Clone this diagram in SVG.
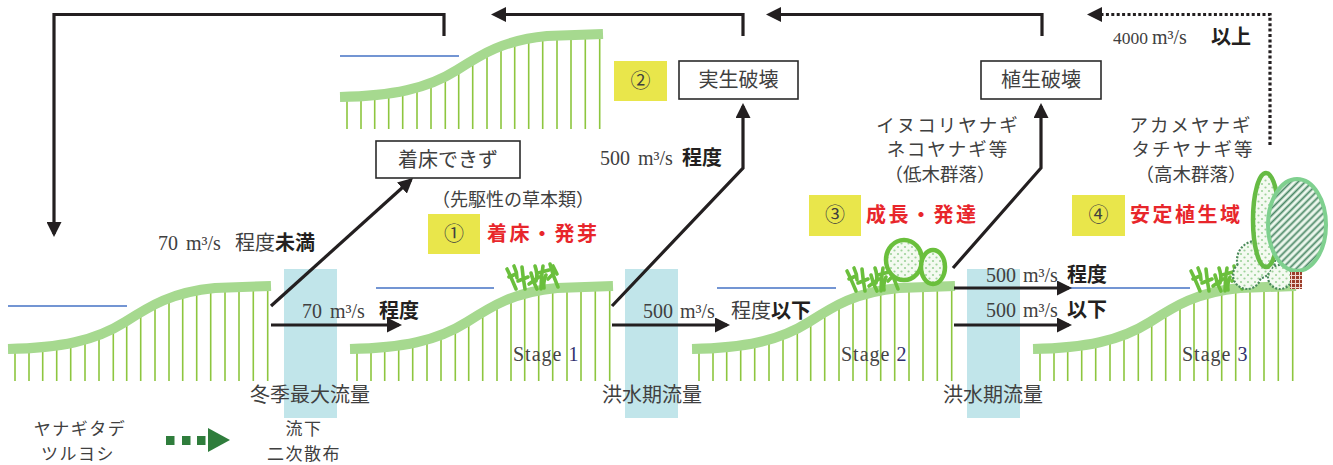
<svg xmlns="http://www.w3.org/2000/svg" width="1333" height="465" viewBox="0 0 1333 465">
<style>
.jp{font-family:"Noto Sans CJK JP",sans-serif;fill:#404040;font-size:20px}
.num{font-family:"Liberation Serif","Noto Sans CJK JP",serif;fill:#404040;font-size:20px}
.b{font-family:"Noto Sans CJK JP",sans-serif;font-weight:700;fill:#231f20;font-size:20px}
.red{font-family:"Noto Sans CJK JP",sans-serif;font-weight:700;fill:#e8262b;font-size:20px;letter-spacing:2.5px}
.stg{font-family:"Liberation Serif",serif;fill:#444;font-size:20px;letter-spacing:1px}
.stg .d{fill:#30306e}
.box{fill:#fff;stroke:#2b2b2b;stroke-width:1.6}
.tag{fill:#e9e64b}
.flow{fill:#c1e5ea}
.water{stroke:#4472c4;stroke-width:1.5}
.band{fill:none;stroke:#a6d98f;stroke-width:10}
.stalk{fill:none;stroke:#8dc63f;stroke-width:1.6}
.conn{fill:none;stroke:#231f20;stroke-width:3.2}
.dot{stroke-dasharray:3 2.4}
.grass{fill:none;stroke:#6abf3c;stroke-width:3.6;stroke-linecap:round;stroke-linejoin:round}
.mid{text-anchor:middle}
.sm{font-size:17px;letter-spacing:1.5px}
</style>
<defs>
  <marker id="head" markerUnits="userSpaceOnUse" markerWidth="15" markerHeight="15" viewBox="0 0 15 15" refX="12" refY="7.5" orient="auto">
    <path d="M0,0 L15,7.5 L0,15 z" fill="#231f20"/>
  </marker>
  <pattern id="dots" width="7" height="7" patternUnits="userSpaceOnUse">
    <rect width="7" height="7" fill="#f4faf1"/>
    <circle cx="2" cy="2" r="1.1" fill="#9ed39a"/>
    <circle cx="5.5" cy="5.5" r="1.1" fill="#9ed39a"/>
  </pattern>
  <pattern id="hatch" width="5" height="5" patternUnits="userSpaceOnUse" patternTransform="rotate(45)">
    <rect width="5" height="5" fill="#eef8ee"/>
    <line x1="1.5" y1="0" x2="1.5" y2="5" stroke="#4a8765" stroke-width="1.8"/>
  </pattern>
  <pattern id="brick" width="4" height="4" patternUnits="userSpaceOnUse">
    <rect width="4" height="4" fill="#f0d8d0"/>
    <rect width="3" height="3" fill="#9c3e2b"/>
  </pattern>
  <!-- river bank: stalks under a sloping turf band -->
  <g id="bank">
    <path class="stalk" d="M15,348.8V381 M29,348.1V381 M42.7,347.1V381 M56.7,345.4V381 M70.7,343V381 M85,339.6V381 M99,335V381 M113.3,328.7V381 M126.7,321V381 M140.7,312.2V381 M155,304.3V381 M169,298.2V381 M182.7,293.7V381 M196.7,290.5V381 M210.7,288.3V381 M225,287.6V381 M239,287.1V381 M253.3,286.6V381 M267.7,286.1V381"/>
    <path class="band" d="M8,349 C60,348 95,341 125,322 C150,306 172,292 215,288 L271,286"/>
  </g>
  <!-- herb tuft -->
  <g id="tuft" class="grass">
    <path d="M2,7 Q6,15 11,27 M4,15 L11,12 M9,4 Q12,10 12,16"/>
    <path d="M17,5 Q18,16 20,27 M13,19 L23,15"/>
    <path d="M26,11 Q28,20 32,27 M30,4 Q33,12 31,19 M24,22 L34,15"/>
    <path d="M38,4 Q36,16 36,27 M33,11 L44,8 M41,13 Q38,20 39,26"/>
    <path d="M45,2 Q48,14 53,25 M43,17 L50,10 M48,4 L52,12"/>
  </g>
</defs>

<rect width="1333" height="465" fill="#fff"/>

<!-- flow bands -->
<g id="flows">
  <rect class="flow" x="284" y="269" width="53" height="149"/>
  <rect class="flow" x="625" y="269" width="53" height="149"/>
  <rect class="flow" x="967" y="269" width="53" height="149"/>
</g>

<!-- inset bank: no establishment -->
<g id="bank-inset">
  <line class="water" x1="340" y1="56" x2="459" y2="56"/>
  <use href="#bank" transform="translate(332,-252)"/>
</g>

<g id="stage0">
  <line class="water" x1="8" y1="306" x2="127" y2="306"/>
  <use href="#bank"/>
</g>

<g id="stage1">
  <line class="water" x1="376" y1="288" x2="494" y2="288"/>
  <use href="#bank" transform="translate(342,0)"/>
  <use href="#tuft" transform="translate(505,262)"/>
  <text class="stg" x="513" y="361">Stage <tspan class="d">1</tspan></text>
</g>

<g id="stage2">
  <line class="water" x1="717" y1="288" x2="836" y2="288"/>
  <use href="#bank" transform="translate(684,0)"/>
  <use href="#tuft" transform="translate(845,264)"/>
  <ellipse cx="904" cy="260" rx="18" ry="20" fill="url(#dots)" stroke="#6abf3c" stroke-width="4.5"/>
  <ellipse cx="933" cy="267" rx="12" ry="17" fill="url(#dots)" stroke="#6abf3c" stroke-width="4.5"/>
  <text class="stg" x="841" y="361">Stage <tspan class="d">2</tspan></text>
</g>

<g id="stage3">
  <line class="water" x1="1060" y1="288" x2="1190" y2="288"/>
  <use href="#bank" transform="translate(1025,0)"/>
  <use href="#tuft" transform="translate(1189,264)"/>
  <g id="bush">
    <g fill="url(#dots)" stroke="#4a8a5a" stroke-width="2.2" stroke-dasharray="2 1.6">
      <circle cx="1256" cy="260" r="19"/>
      <circle cx="1247" cy="275" r="14"/>
      <circle cx="1280" cy="277" r="12"/>
    </g>
    <g fill="url(#dots)">
      <circle cx="1256" cy="260" r="17.5"/>
      <circle cx="1247" cy="275" r="12.5"/>
      <circle cx="1280" cy="277" r="10.5"/>
    </g>
  </g>
  <ellipse cx="1266" cy="220" rx="13" ry="47" fill="url(#dots)" stroke="#66bb44" stroke-width="4.5"/>
  <ellipse cx="1297" cy="225" rx="29" ry="46" fill="url(#hatch)" stroke="#7fd08f" stroke-width="4"/>
  <rect x="1290" y="272" width="12" height="17" fill="url(#brick)"/>
  <text class="stg" x="1182" y="361">Stage <tspan class="d">3</tspan></text>
</g>

<!-- connectors -->
<g id="connectors" class="conn">
  <path d="M444,36 V14.5 H54 V234" marker-end="url(#head)"/>
  <path d="M743,36 V14.5 H494" marker-end="url(#head)"/>
  <path d="M1042,36 V14.5 H769" marker-end="url(#head)"/>
  <path class="dot" d="M1270,145 V14.5 H1090" marker-end="url(#head)"/>
  <path d="M271,306 L410.8,180" marker-end="url(#head)"/>
  <path d="M271,325 H399" marker-end="url(#head)"/>
  <path d="M612,306 L743,168 V106" marker-end="url(#head)"/>
  <path d="M612,325 H727" marker-end="url(#head)"/>
  <path d="M953,268 L1041,168 V106" marker-end="url(#head)"/>
  <path d="M954,288 H1069" marker-end="url(#head)"/>
  <path d="M954,325 H1069" marker-end="url(#head)"/>
</g>

<!-- state boxes -->
<g id="box-nofix">
  <rect class="box" x="376" y="141" width="144" height="37"/>
  <text class="jp mid" x="448" y="167">着床できず</text>
</g>
<g id="box-seedling">
  <rect class="box" x="679" y="61" width="119" height="38"/>
  <text class="jp mid" x="738.5" y="87">実生破壊</text>
</g>
<g id="box-vegetation">
  <rect class="box" x="981" y="61" width="120" height="38"/>
  <text class="jp mid" x="1041" y="87">植生破壊</text>
</g>

<!-- numbered phases -->
<g id="tag1">
  <rect class="tag" x="428" y="214" width="52" height="40"/>
  <text class="jp mid" x="454" y="241">①</text>
  <text class="red" x="487" y="241">着床・発芽</text>
</g>
<g id="tag2">
  <rect class="tag" x="614" y="61" width="53" height="40"/>
  <text class="jp mid" x="640.5" y="88">②</text>
</g>
<g id="tag3">
  <rect class="tag" x="809" y="195" width="52" height="41"/>
  <text class="jp mid" x="835" y="222">③</text>
  <text class="red" x="866" y="222">成長・発達</text>
</g>
<g id="tag4">
  <rect class="tag" x="1072" y="195" width="53" height="41"/>
  <text class="jp mid" x="1098.5" y="222">④</text>
  <text class="red" x="1130" y="222">安定植生域</text>
</g>

<!-- flow labels -->
<g id="flow-labels">
  <text y="44"><tspan class="num" x="1113" style="font-size:17.5px">4000</tspan><tspan class="num" x="1152">m³/s</tspan><tspan class="b" x="1211">以上</tspan></text>
  <text y="165"><tspan class="num" x="600">500</tspan><tspan class="num" x="638">m³/s</tspan><tspan class="b" x="682">程度</tspan></text>
  <text y="250"><tspan class="num" x="158">70</tspan><tspan class="num" x="186">m³/s</tspan><tspan class="jp" x="235">程度</tspan><tspan class="b">未満</tspan></text>
  <text y="318"><tspan class="num" x="302">70</tspan><tspan class="num" x="330">m³/s</tspan><tspan class="b" x="379">程度</tspan></text>
  <text y="318"><tspan class="num" x="643">500</tspan><tspan class="num" x="680">m³/s</tspan><tspan class="jp" x="731">程度</tspan><tspan class="b">以下</tspan></text>
  <text y="282"><tspan class="num" x="986">500</tspan><tspan class="num" x="1023">m³/s</tspan><tspan class="b" x="1067">程度</tspan></text>
  <text y="317"><tspan class="num" x="986">500</tspan><tspan class="num" x="1023">m³/s</tspan><tspan class="b" x="1067">以下</tspan></text>
  <text class="jp mid" x="310" y="402">冬季最大流量</text>
  <text class="jp mid" x="652" y="402">洪水期流量</text>
  <text class="jp mid" x="993" y="402">洪水期流量</text>
</g>

<!-- vegetation labels -->
<g id="veg-labels">
  <text class="jp mid" x="513" y="206" style="font-size:18px">（先駆性の草本類）</text>
  <text class="jp mid" x="948" y="132" style="font-size:18.5px;letter-spacing:2px">イヌコリヤナギ</text>
  <text class="jp mid" x="948" y="156" style="font-size:18.5px;letter-spacing:2px">ネコヤナギ等</text>
  <text class="jp mid" x="940" y="181" style="font-size:18.5px">（低木群落）</text>
  <text class="jp mid" x="1191" y="132" style="font-size:18.5px;letter-spacing:2px">アカメヤナギ</text>
  <text class="jp mid" x="1193" y="156" style="font-size:18.5px;letter-spacing:2px">タチヤナギ等</text>
  <text class="jp mid" x="1191" y="181" style="font-size:18.5px">（高木群落）</text>
</g>

<!-- legend -->
<g id="legend">
  <text class="jp mid sm" x="80" y="435">ヤナギタデ</text>
  <text class="jp mid sm" x="78" y="460">ツルヨシ</text>
  <g fill="#2f7d3c">
    <rect x="166" y="436" width="8.5" height="9"/>
    <rect x="182" y="436" width="8.5" height="9"/>
    <rect x="197" y="436" width="8.5" height="9"/>
    <path d="M208,428 L230,440 L208,452 z"/>
  </g>
  <text class="jp mid sm" x="304" y="435">流下</text>
  <text class="jp mid sm" x="304" y="460">二次散布</text>
</g>
</svg>
